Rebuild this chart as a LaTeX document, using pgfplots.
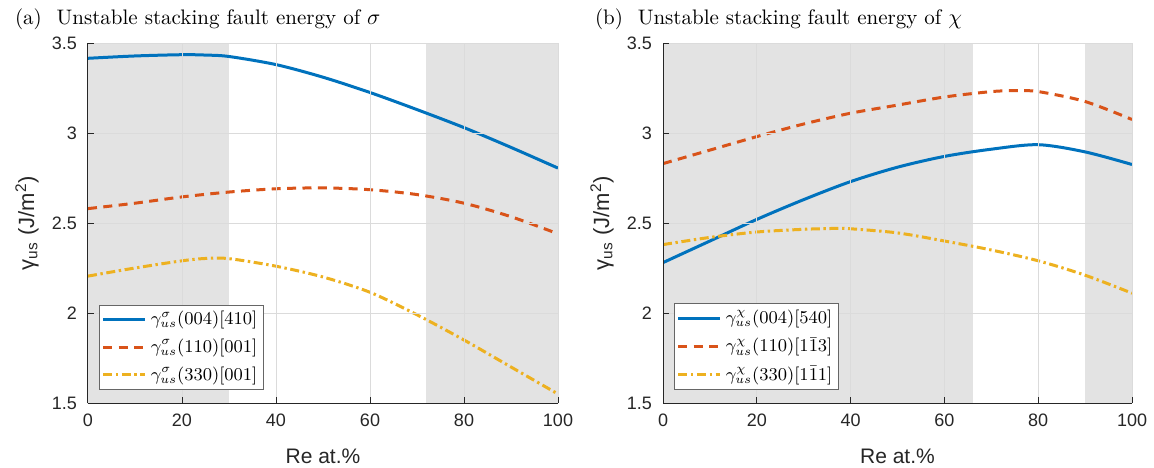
\documentclass[border=0pt]{standalone}
\usepackage{pgfplots}
\pgfplotsset{compat=1.18}
\usepackage{fontspec}
\newfontfamily\hv{Liberation Sans}
\definecolor{mblue}{RGB}{0,114,189}
\definecolor{morange}{RGB}{217,83,25}
\definecolor{myellow}{RGB}{237,177,32}
\definecolor{shade}{RGB}{227,227,227}
\definecolor{axc}{RGB}{38,38,38}
\pgfplotsset{
  mystyle/.style={
    scale only axis,
    height=180pt,
    xmin=0, xmax=100, ymin=1.5, ymax=3.5,
    xtick={0,20,40,60,80,100},
    ytick={1.5,2,2.5,3,3.5},
    axis x line*=bottom, axis y line*=left,
    axis line style={-, color=axc, line width=0.5pt},
    tick align=inside,
    major tick length=3pt,
    tick style={color=axc, line width=0.5pt},
    grid=major,
    major grid style={color=black!14, line width=0.5pt},
    axis on top,
    /pgf/number format/assume math mode=true,
    tick label style={font=\fontsize{9}{10}\hv, color=axc},
    xlabel={Re at.\%},
    ylabel={γ\textsubscript{us} (J/m\textsuperscript{2})},
    xlabel style={font=\fontsize{10.5}{12}\hv, color=axc, at={(0.5,0)}, anchor=base, yshift=-30pt},
    ylabel style={font=\fontsize{11}{12}\hv, color=axc, at={(-30.5pt,90pt)}, anchor=center, rotate=0},
    yticklabel style={xshift=-2pt},
    xticklabel style={yshift=-2pt},
    legend style={at={(0,0)}, anchor=south west, xshift=5.5pt, yshift=6.5pt,
      draw=black!60, line width=0.4pt, fill=white,
      font=\fontsize{9}{10}\selectfont, inner sep=1.2pt, row sep=1.6pt,
      legend cell align=left},
    legend image code/.code={\draw[##1] (0pt,0pt) -- (21pt,0pt);},
  },
  l1/.style={mblue, line width=1.5pt, smooth},
  l2/.style={morange, line width=1.5pt, smooth, dash pattern=on 4.5pt off 3.2pt},
  l3/.style={myellow, line width=1.5pt, smooth, dash pattern=on 4.5pt off 1.8pt on 1.2pt off 1.8pt},
}
\begin{document}
\begin{tikzpicture}
\useasboundingbox (-44pt,-32pt) rectangle (533pt,201.5pt);
\begin{axis}[mystyle, width=235pt, at={(0pt,0pt)}, anchor=south west]
\addplot[fill=shade, draw=none, forget plot] coordinates {(0,1.5) (30,1.5) (30,3.5) (0,3.5)} -- cycle;
\addplot[fill=shade, draw=none, forget plot] coordinates {(72,1.5) (100,1.5) (100,3.5) (72,3.5)} -- cycle;
\addplot[l1] coordinates {(0,3.415) (10,3.428) (20,3.435) (25,3.433) (30,3.425) (40,3.38) (50,3.31) (60,3.225) (70,3.13) (80,3.03) (90,2.92) (100,2.805)};
\addplot[l2] coordinates {(0,2.58) (10,2.61) (20,2.645) (30,2.672) (40,2.69) (50,2.695) (60,2.685) (70,2.658) (80,2.61) (90,2.535) (100,2.44)};
\addplot[l3] coordinates {(0,2.205) (10,2.25) (20,2.29) (25,2.303) (30,2.302) (40,2.26) (50,2.2) (60,2.115) (70,1.99) (80,1.85) (90,1.70) (100,1.55)};
\legend{$\gamma_{us}^{\sigma}(004)[410]$, $\gamma_{us}^{\sigma}(110)[001]$, $\gamma_{us}^{\sigma}(330)[001]$}
\end{axis}
\node[anchor=base west, font=\fontsize{10.5}{12}\selectfont] at (-40pt,189pt) {(a)\hspace{0.7em}Unstable stacking fault energy of $\sigma$};
\begin{axis}[mystyle, width=234.5pt, at={(287.5pt,0pt)}, anchor=south west]
\addplot[fill=shade, draw=none, forget plot] coordinates {(0,1.5) (66,1.5) (66,3.5) (0,3.5)} -- cycle;
\addplot[fill=shade, draw=none, forget plot] coordinates {(90,1.5) (100,1.5) (100,3.5) (90,3.5)} -- cycle;
\addplot[l1] coordinates {(0,2.28) (10,2.40) (20,2.52) (30,2.63) (40,2.73) (50,2.81) (60,2.87) (70,2.91) (80,2.935) (90,2.895) (100,2.825)};
\addplot[l2] coordinates {(0,2.83) (10,2.905) (20,2.98) (30,3.05) (40,3.11) (50,3.155) (60,3.20) (70,3.23) (75,3.235) (80,3.23) (90,3.175) (100,3.075)};
\addplot[l3] coordinates {(0,2.38) (10,2.42) (20,2.45) (30,2.465) (37,2.47) (40,2.468) (50,2.445) (60,2.40) (70,2.35) (80,2.29) (90,2.21) (100,2.11)};
\legend{$\gamma_{us}^{\chi}(004)[540]$, $\gamma_{us}^{\chi}(110)[1\bar{1}3]$, $\gamma_{us}^{\chi}(330)[1\bar{1}1]$}
\end{axis}
\node[anchor=base west, font=\fontsize{10.5}{12}\selectfont] at (250pt,189pt) {(b)\hspace{0.7em}Unstable stacking fault energy of $\chi$};
\end{tikzpicture}
\end{document}
